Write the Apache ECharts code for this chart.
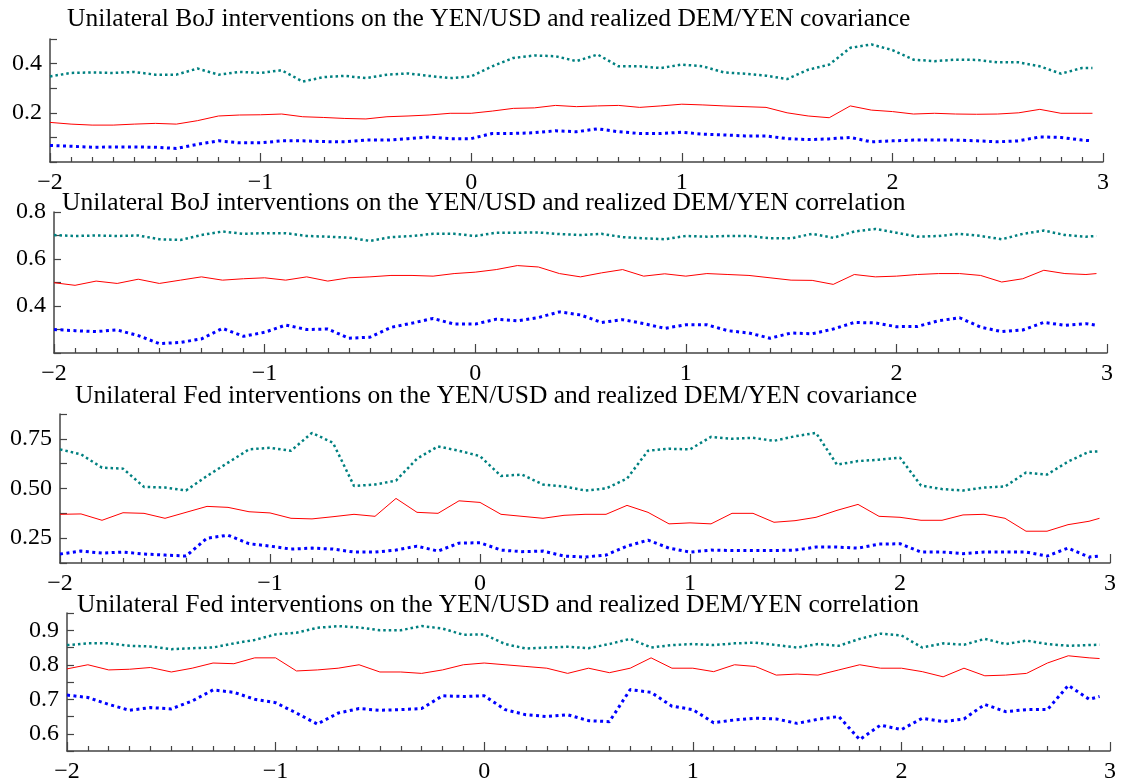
<!DOCTYPE html>
<html>
<head>
<meta charset="utf-8">
<style>
  html, body { margin: 0; padding: 0; background: #fff; }
  #chart { width: 1124px; height: 784px; }
</style>
<script src="https://cdn.jsdelivr.net/npm/echarts@6/dist/echarts.min.js"></script>
</head>
<body>
<div id="chart"></div>
<script>
// common horizon (x axis) for all four panels
const xValues = [
  -2.0, -1.9, -1.8, -1.7, -1.6, -1.5, -1.4, -1.3, -1.2, -1.1,
  -1.0, -0.9, -0.8, -0.7, -0.6, -0.5, -0.4, -0.3, -0.2, -0.1,
  0.0, 0.1, 0.2, 0.3, 0.4, 0.5, 0.6, 0.7, 0.8, 0.9,
  1.0, 1.1, 1.2, 1.3, 1.4, 1.5, 1.6, 1.7, 1.8, 1.9,
  2.0, 2.1, 2.2, 2.3, 2.4, 2.5, 2.6, 2.7, 2.8, 2.9,
  2.95
]

const titles = [
  'Unilateral BoJ interventions on the YEN/USD and realized DEM/YEN covariance',
  'Unilateral BoJ interventions on the YEN/USD and realized DEM/YEN correlation',
  'Unilateral Fed interventions on the YEN/USD and realized DEM/YEN covariance',
  'Unilateral Fed interventions on the YEN/USD and realized DEM/YEN correlation'
]

const xTicks = [-2, -1, 0, 1, 2, 3]

// panel 1: BoJ covariance
const bojCovUpper = [
  0.348, 0.362, 0.364, 0.362, 0.366, 0.355, 0.355, 0.38, 0.355, 0.366,
  0.362, 0.373, 0.327, 0.345, 0.35, 0.341, 0.355, 0.36, 0.35, 0.341,
  0.348, 0.389, 0.423, 0.433, 0.43, 0.41, 0.437, 0.389, 0.389, 0.382,
  0.396, 0.389, 0.364, 0.359, 0.351, 0.337, 0.375, 0.396, 0.464, 0.478,
  0.455, 0.416, 0.41, 0.416, 0.415, 0.405, 0.405, 0.389, 0.359, 0.382,
  0.382
]
const bojCovMid = [
  0.161, 0.154, 0.15, 0.15, 0.154, 0.157, 0.154, 0.168, 0.187, 0.191,
  0.192, 0.195, 0.184, 0.181, 0.177, 0.175, 0.184, 0.187, 0.191, 0.198,
  0.198, 0.207, 0.218, 0.22, 0.23, 0.225, 0.228, 0.23, 0.222, 0.228,
  0.235, 0.232, 0.228, 0.225, 0.222, 0.2, 0.187, 0.18, 0.228, 0.211,
  0.205, 0.195, 0.198, 0.195, 0.194, 0.195, 0.2, 0.214, 0.198, 0.198,
  0.198
]
const bojCovLower = [
  0.067, 0.064, 0.06, 0.061, 0.061, 0.06, 0.055, 0.072, 0.086, 0.078,
  0.078, 0.086, 0.086, 0.083, 0.082, 0.089, 0.089, 0.095, 0.102, 0.095,
  0.095, 0.116, 0.116, 0.119, 0.127, 0.123, 0.135, 0.123, 0.116, 0.116,
  0.121, 0.113, 0.11, 0.106, 0.106, 0.095, 0.091, 0.094, 0.1, 0.082,
  0.086, 0.089, 0.089, 0.089, 0.086, 0.082, 0.086, 0.102, 0.1, 0.089,
  0.086
]

// panel 2: BoJ correlation
const bojCorUpper = [
  0.702, 0.698, 0.7, 0.698, 0.7, 0.684, 0.681, 0.702, 0.717, 0.707,
  0.71, 0.71, 0.698, 0.695, 0.691, 0.677, 0.693, 0.698, 0.707, 0.707,
  0.698, 0.712, 0.712, 0.713, 0.706, 0.702, 0.707, 0.693, 0.688, 0.684,
  0.698, 0.695, 0.698, 0.698, 0.688, 0.688, 0.707, 0.69, 0.717, 0.728,
  0.712, 0.695, 0.698, 0.707, 0.698, 0.684, 0.707, 0.721, 0.702, 0.695,
  0.698
]
const bojCorMid = [
  0.499, 0.488, 0.506, 0.496, 0.514, 0.496, 0.51, 0.524, 0.51, 0.516,
  0.52, 0.51, 0.524, 0.506, 0.52, 0.524, 0.53, 0.53, 0.527, 0.538,
  0.544, 0.555, 0.572, 0.566, 0.538, 0.524, 0.541, 0.555, 0.527, 0.537,
  0.527, 0.538, 0.534, 0.53, 0.52, 0.51, 0.509, 0.492, 0.534, 0.524,
  0.527, 0.534, 0.538, 0.538, 0.53, 0.502, 0.516, 0.552, 0.538, 0.534,
  0.538
]
const bojCorLower = [
  0.3, 0.295, 0.291, 0.298, 0.274, 0.24, 0.245, 0.26, 0.305, 0.271,
  0.288, 0.319, 0.3, 0.302, 0.263, 0.267, 0.309, 0.327, 0.347, 0.323,
  0.323, 0.344, 0.337, 0.351, 0.375, 0.362, 0.33, 0.342, 0.325, 0.305,
  0.32, 0.32, 0.295, 0.285, 0.263, 0.285, 0.282, 0.302, 0.33, 0.328,
  0.312, 0.313, 0.337, 0.35, 0.31, 0.291, 0.298, 0.33, 0.318, 0.325,
  0.318
]

// panel 3: Fed covariance
const fedCovUpper = [
  0.697, 0.672, 0.605, 0.6, 0.508, 0.505, 0.49, 0.563, 0.63, 0.697,
  0.705, 0.69, 0.78, 0.73, 0.513, 0.52, 0.54, 0.65, 0.712, 0.69,
  0.663, 0.563, 0.57, 0.52, 0.51, 0.49, 0.5, 0.55, 0.69, 0.7,
  0.697, 0.76, 0.75, 0.755, 0.74, 0.763, 0.78, 0.62, 0.638, 0.645,
  0.655, 0.515, 0.497, 0.49, 0.505, 0.51, 0.58, 0.57, 0.635, 0.685,
  0.687
]
const fedCovMid = [
  0.37, 0.372, 0.34, 0.378, 0.375, 0.35, 0.38, 0.41, 0.405, 0.383,
  0.377, 0.35, 0.347, 0.358, 0.37, 0.36, 0.45, 0.38, 0.375, 0.438,
  0.43, 0.37, 0.36, 0.35, 0.365, 0.37, 0.37, 0.415, 0.38, 0.322,
  0.327, 0.322, 0.375, 0.375, 0.33, 0.338, 0.355, 0.39, 0.42, 0.36,
  0.355, 0.34, 0.34, 0.367, 0.37, 0.35, 0.285, 0.285, 0.318, 0.335,
  0.35
]
const fedCovLower = [
  0.17, 0.185, 0.175, 0.18, 0.17, 0.165, 0.16, 0.25, 0.265, 0.222,
  0.21, 0.195, 0.2, 0.195, 0.18, 0.18, 0.19, 0.21, 0.185, 0.225,
  0.227, 0.19, 0.182, 0.185, 0.16, 0.155, 0.165, 0.21, 0.24, 0.2,
  0.18, 0.19, 0.188, 0.188, 0.188, 0.19, 0.205, 0.205, 0.2, 0.22,
  0.222, 0.18, 0.18, 0.172, 0.18, 0.18, 0.18, 0.16, 0.2, 0.155,
  0.16
]

// panel 4: Fed correlation
const fedCorUpper = [
  0.857, 0.862, 0.862, 0.855, 0.853, 0.845, 0.848, 0.85, 0.862, 0.872,
  0.888, 0.893, 0.907, 0.912, 0.908, 0.9, 0.9, 0.912, 0.905, 0.887,
  0.888, 0.86, 0.847, 0.85, 0.852, 0.848, 0.86, 0.875, 0.85, 0.857,
  0.86, 0.857, 0.862, 0.864, 0.857, 0.85, 0.86, 0.855, 0.875, 0.89,
  0.885, 0.85, 0.862, 0.858, 0.875, 0.86, 0.87, 0.86, 0.855, 0.857,
  0.858
]
const fedCorMid = [
  0.788, 0.8, 0.785, 0.787, 0.792, 0.779, 0.79, 0.805, 0.803, 0.82,
  0.82, 0.782, 0.785, 0.79, 0.8, 0.779, 0.779, 0.775, 0.785, 0.8,
  0.805, 0.8, 0.795, 0.79, 0.775, 0.79, 0.777, 0.79, 0.82, 0.79,
  0.79, 0.78, 0.8, 0.795, 0.77, 0.773, 0.77, 0.785, 0.8, 0.79,
  0.79, 0.78, 0.765, 0.79, 0.768, 0.77, 0.775, 0.805, 0.826, 0.82,
  0.818
]
const fedCorLower = [
  0.712, 0.705, 0.685, 0.668, 0.676, 0.672, 0.695, 0.727, 0.72, 0.7,
  0.69, 0.66, 0.628, 0.66, 0.673, 0.668, 0.67, 0.673, 0.71, 0.708,
  0.71, 0.67, 0.655, 0.65, 0.655, 0.638, 0.635, 0.728, 0.72, 0.68,
  0.67, 0.632, 0.64, 0.645, 0.643, 0.63, 0.642, 0.65, 0.583, 0.625,
  0.612, 0.645, 0.635, 0.643, 0.685, 0.664, 0.67, 0.67, 0.74, 0.7,
  0.708
]

const fontFamily = 'Liberation Serif'
const axisColor = '#444'

const panels = [
  { title: titles[0], titleLeft: 67, titleTop: 6, grid: { left: 50, top: 39, width: 1053, height: 123 },
    min: 0, max: 0.5, interval: 0.1, labels: [0.2, 0.4], digits: 1,
    lines: [bojCovUpper, bojCovMid, bojCovLower] },
  { title: titles[1], titleLeft: 62, titleTop: 190, grid: { left: 54, top: 212, width: 1053, height: 141 },
    min: 0.2, max: 0.8, interval: 0.1, labels: [0.4, 0.6, 0.8], digits: 1,
    lines: [bojCorUpper, bojCorMid, bojCorLower] },
  { title: titles[2], titleLeft: 75, titleTop: 383, grid: { left: 60, top: 414, width: 1050, height: 149 },
    min: 0.125, max: 0.875, interval: 0.125, labels: [0.25, 0.5, 0.75], digits: 2,
    lines: [fedCovUpper, fedCovMid, fedCovLower] },
  { title: titles[3], titleLeft: 77, titleTop: 592, grid: { left: 67, top: 613, width: 1043, height: 146 },
    min: 0.55, max: 0.95, interval: 0.05, labels: [0.6, 0.7, 0.8, 0.9], digits: 1,
    lines: [fedCorUpper, fedCorMid, fedCorLower] }
]

// teal dotted, red solid, blue dotted
const lineStyles = [
  { color: '#008080', width: 2.5, type: [2.5, 3] },
  { color: '#ff0000', width: 1, type: 'solid' },
  { color: '#0000ff', width: 3, type: [3, 3.5] }
]

const chart = echarts.init(document.getElementById('chart'))

const option = {
  animation: false,
  backgroundColor: '#fff',
  title: [],
  grid: [],
  xAxis: [],
  yAxis: [],
  series: []
}

panels.forEach((p, i) => {
  option.title.push({
    text: p.title,
    left: p.titleLeft,
    top: p.titleTop,
    padding: 0,
    textStyle: { fontFamily: fontFamily, fontWeight: 'normal', fontSize: 25.5, color: '#000' }
  })
  option.grid.push(Object.assign({ containLabel: false }, p.grid))
  option.xAxis.push({
    type: 'value',
    gridIndex: i,
    min: xTicks[0],
    max: xTicks[xTicks.length - 1],
    interval: 1,
    axisLine: { show: true, onZero: false, lineStyle: { color: axisColor, width: 1.5 } },
    axisTick: { show: true, inside: true, length: 9, lineStyle: { color: axisColor, width: 1.2 } },
    minorTick: { show: true, splitNumber: 10, length: 5, lineStyle: { color: axisColor, width: 1.2 } },
    splitLine: { show: false },
    axisLabel: {
      margin: 9,
      fontFamily: fontFamily,
      fontSize: 24,
      color: '#000',
      formatter: v => (v < 0 ? '\u2212' + Math.abs(v) : String(v))
    }
  })
  option.yAxis.push({
    type: 'value',
    gridIndex: i,
    min: p.min,
    max: p.max,
    interval: p.interval,
    axisLine: { show: true, onZero: false, lineStyle: { color: axisColor, width: 1.5 } },
    axisTick: { show: true, inside: true, length: 7, lineStyle: { color: axisColor, width: 1.2 } },
    splitLine: { show: false },
    axisLabel: {
      margin: 8,
      fontFamily: fontFamily,
      fontSize: 24,
      color: '#000',
      showMinLabel: true,
      showMaxLabel: true,
      formatter: v => (p.labels.some(l => Math.abs(l - v) < 1e-6) ? v.toFixed(p.digits) : '')
    }
  })
  p.lines.forEach((vals, k) => {
    option.series.push({
      type: 'line',
      xAxisIndex: i,
      yAxisIndex: i,
      symbol: 'none',
      silent: true,
      lineStyle: Object.assign({ cap: 'butt' }, lineStyles[k]),
      data: xValues.map((x, j) => [x, vals[j]])
    })
  })
})

chart.setOption(option)
</script>
</body>
</html>
